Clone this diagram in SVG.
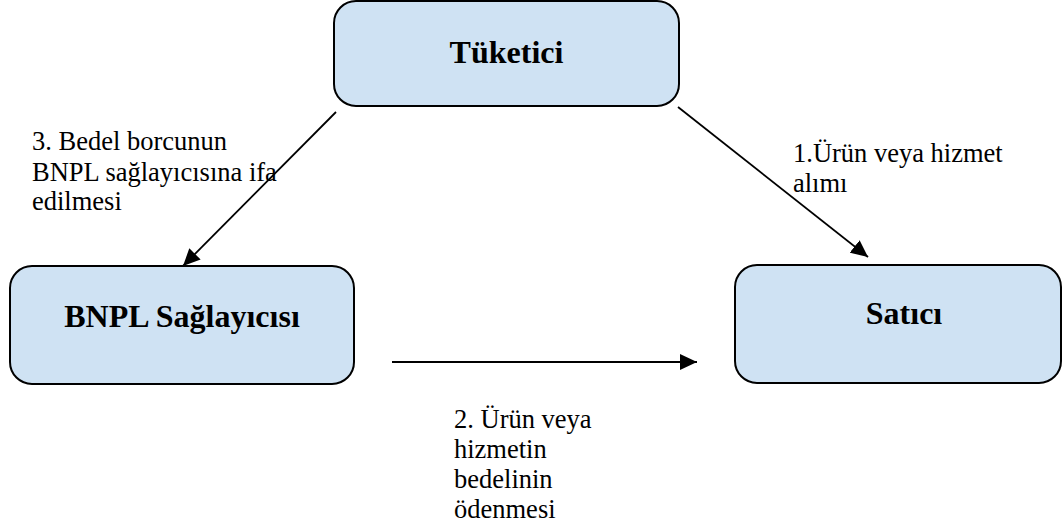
<svg xmlns="http://www.w3.org/2000/svg" width="1062" height="528" viewBox="0 0 1062 528">
<style>
.box{fill:#cfe2f3;stroke:#000;stroke-width:2}
.title{font-family:"Times New Roman","Liberation Serif",Tinos,"DejaVu Serif",serif;font-weight:bold;font-size:32px;text-anchor:middle;fill:#000}
.lbl{font-family:"Times New Roman","Liberation Serif",Tinos,"DejaVu Serif",serif;font-size:26.5px;fill:#000}
.conn{stroke:#000;stroke-width:1.8;fill:none;marker-end:url(#arr)}
</style>
<defs>
<marker id="arr" markerUnits="userSpaceOnUse" markerWidth="18" markerHeight="16" refX="17" refY="8" orient="auto">
<path d="M0,0 L17,8 L0,16 z" fill="#000"/>
</marker>
</defs>
<rect width="1062" height="528" fill="#fff"/>
<g id="tuketici">
<rect class="box" x="334" y="1" width="345" height="105" rx="22"/>
<text class="title" x="506.5" y="63">Tüketici</text>
</g>
<g id="bnpl">
<rect class="box" x="10" y="266" width="344" height="118" rx="22"/>
<text class="title" x="182" y="327">BNPL Sağlayıcısı</text>
</g>
<g id="satici">
<rect class="box" x="735" y="265" width="326" height="118" rx="22"/>
<text class="title" x="904" y="324">Satıcı</text>
</g>
<g id="connectors">
<line class="conn" x1="336" y1="112" x2="183" y2="266"/>
<line class="conn" x1="678" y1="107" x2="868" y2="257"/>
<line class="conn" x1="392" y1="362" x2="697" y2="362"/>
</g>
<g id="labels">
<text class="lbl" x="32" y="150">3. Bedel borcunun</text>
<text class="lbl" x="32" y="181">BNPL sağlayıcısına ifa</text>
<text class="lbl" x="32" y="210">edilmesi</text>
<text class="lbl" x="793" y="162">1.Ürün veya hizmet</text>
<text class="lbl" x="793" y="192">alımı</text>
<text class="lbl" x="454" y="428">2. Ürün veya</text>
<text class="lbl" x="454" y="458">hizmetin</text>
<text class="lbl" x="454" y="488">bedelinin</text>
<text class="lbl" x="454" y="518">ödenmesi</text>
</g>
</svg>
